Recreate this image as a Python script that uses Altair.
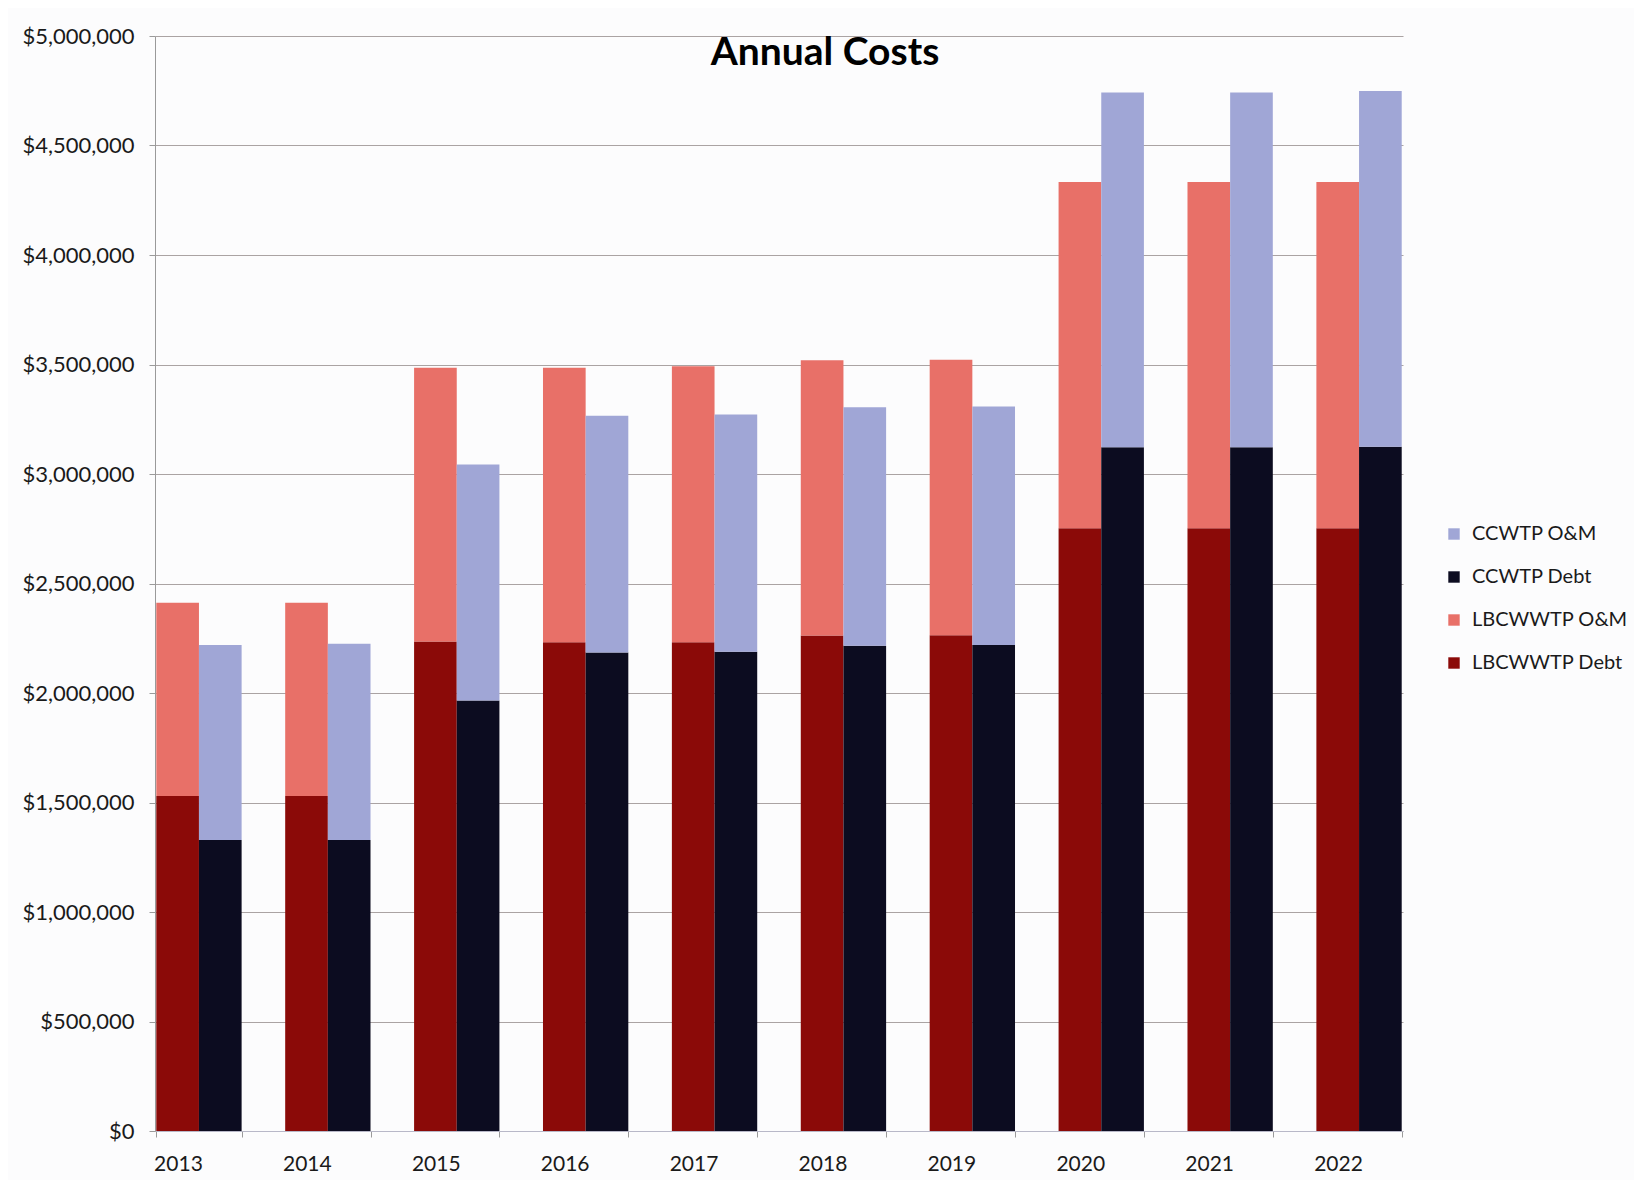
import altair as alt
import pandas as pd

years = ["2013", "2014", "2015", "2016", "2017", "2018", "2019", "2020", "2021", "2022"]
lb_debt = [1530000, 1530000, 2235000, 2232000, 2232000, 2262000, 2264000, 2752000, 2752000, 2752000]
lb_om = [882000, 882000, 1250000, 1253000, 1260000, 1257000, 1258000, 1581000, 1581000, 1581000]
cc_debt = [1329000, 1329000, 1966000, 2185000, 2188000, 2216000, 2219000, 3122000, 3122000, 3124000]
cc_om = [890000, 896000, 1077000, 1081000, 1084000, 1089000, 1089000, 1620000, 1620000, 1625000]

series_names = ["CCWTP O&M", "CCWTP Debt", "LBCWWTP O&M", "LBCWWTP Debt"]
series_colors = ["#A0A6D6", "#0C0C20", "#E87068", "#8B0A08"]
plants = ["LBCWWTP", "CCWTP"]
y_ticks = [0, 500000, 1000000, 1500000, 2000000, 2500000, 3000000, 3500000, 4000000, 4500000, 5000000]

rows = []
for i, yr in enumerate(years):
    rows.append(dict(year=yr, plant="LBCWWTP", series="LBCWWTP Debt", value=lb_debt[i], stk=0))
    rows.append(dict(year=yr, plant="LBCWWTP", series="LBCWWTP O&M", value=lb_om[i], stk=1))
    rows.append(dict(year=yr, plant="CCWTP", series="CCWTP Debt", value=cc_debt[i], stk=0))
    rows.append(dict(year=yr, plant="CCWTP", series="CCWTP O&M", value=cc_om[i], stk=1))
df = pd.DataFrame(rows)

font = "Lato"

chart = alt.Chart(df).mark_bar().encode(
    x=alt.X("year:N", sort=years, title=None,
            scale=alt.Scale(paddingInner=0.338, paddingOuter=0.01),
            axis=alt.Axis(labelAngle=0, labelOffset=-21, labelFontSize=21, labelFont=font,
                          labelColor="#1a1a1a", labelPadding=16, tickSize=6, tickColor="#9a9a9a",
                          tickBand="extent", domainColor="#b8b8c8", grid=False)),
    xOffset=alt.XOffset("plant:N", sort=plants, scale=alt.Scale(paddingInner=0, paddingOuter=0)),
    y=alt.Y("value:Q", stack="zero", title=None,
            scale=alt.Scale(domain=[0, 5000000], nice=False),
            axis=alt.Axis(values=y_ticks, format="$,.0f", labelFontSize=22, labelFont=font,
                          labelColor="#1a1a1a", tickSize=6, labelPadding=15,
                          gridColor="#aaa3a3", domainColor="#9a9a9a", tickColor="#9a9a9a")),
    color=alt.Color("series:N", scale=alt.Scale(domain=series_names, range=series_colors),
                    legend=alt.Legend(title=None, orient="none", legendX=1289, legendY=488,
                                      labelFontSize=20, labelFont=font, labelColor="#1a1a1a",
                                      symbolType="square", symbolSize=130, rowPadding=23,
                                      labelOffset=8, padding=0, symbolStrokeWidth=0)),
    order=alt.Order("stk:Q"),
).properties(
    width=1248,
    height=1095,
    autosize=alt.AutoSizeParams(type="none"),
    padding={"left": 147, "top": 28, "right": 231, "bottom": 49},
    background="#fcfcfd",
    title=alt.TitleParams("Annual Costs", font=font, fontSize=39, fontWeight="bold", color="black",
                          anchor="middle", dx=46, dy=48, offset=0),
).configure_view(stroke=None)

chart.save("out.html", embed_options={"renderer": "svg", "actions": False})
